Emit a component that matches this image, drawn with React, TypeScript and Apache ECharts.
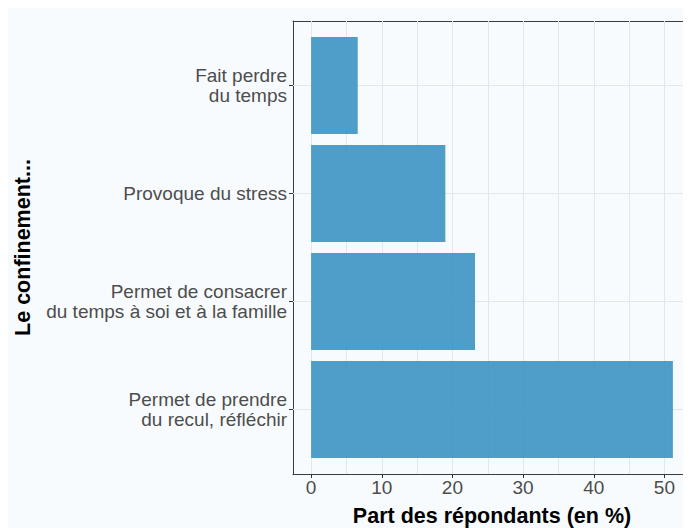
import React, { useEffect, useRef } from "react";
import * as echarts from "echarts";

const categories = [
  "Permet de prendre\ndu recul, réfléchir",
  "Permet de consacrer\ndu temps à soi et à la famille",
  "Provoque du stress",
  "Fait perdre\ndu temps",
];
const values = [51.2, 23.2, 19.0, 6.6];
const xTickValues = [0, 10, 20, 30, 40, 50];
const xGridValues = [0, 5, 10, 15, 20, 25, 30, 35, 40, 45, 50];
const xMin = -2.56;
const xMax = 53.76;

const FONT = "'Liberation Sans', Arial, sans-serif";
const BG = "#f7fbfd";
const GRID = "#e3e7ea";
const FRAME = "#3c3c3c";

export default function App() {
  const ref = useRef<HTMLDivElement>(null);
  useEffect(() => {
    document.body.style.overflow = "hidden";
    const chart = echarts.init(ref.current!, null, { renderer: "svg" });
    chart.setOption({
      animation: false,
      backgroundColor: BG,
      textStyle: { fontFamily: FONT },
      grid: [
        { left: 285, right: 0, top: 13, bottom: 54, containLabel: false, outerBoundsMode: "none" },
        { left: 285, right: 0, top: 23.5, bottom: 64.5, containLabel: false, outerBoundsMode: "none" },
      ],
      xAxis: [
        {
          type: "value",
          gridIndex: 0,
          position: "bottom",
          min: xMin,
          max: xMax,
          axisLine: { show: true, onZero: false, lineStyle: { color: FRAME, width: 1 } },
          axisTick: { show: true, length: 4, customValues: xTickValues, lineStyle: { color: "#333" } },
          axisLabel: {
            show: true,
            customValues: xTickValues,
            margin: 4,
            fontSize: 19,
            color: "#4d4d4d",
            fontFamily: FONT,
          },
          splitLine: { show: false },
          name: "Part des répondants (en %)",
          nameLocation: "middle",
          nameGap: 31,
          nameTextStyle: { fontSize: 21.5, fontWeight: "bold", color: "#000", fontFamily: FONT },
        },
        {
          type: "value",
          gridIndex: 1,
          min: xMin,
          max: xMax,
          show: false,
        },
        {
          type: "value",
          gridIndex: 0,
          position: "top",
          min: xMin,
          max: xMax,
          axisLine: { show: true, onZero: false, lineStyle: { color: FRAME, width: 1 } },
          axisTick: { show: false },
          axisLabel: { show: false },
          splitLine: { show: false },
        },
      ],
      yAxis: [
        {
          type: "value",
          gridIndex: 0,
          min: 0,
          max: 1,
          axisLine: { show: true, onZero: false, lineStyle: { color: FRAME, width: 1 } },
          axisTick: { show: false },
          axisLabel: { show: false },
          splitLine: { show: false },
          name: "Le confinement...",
          nameLocation: "middle",
          nameRotate: 90,
          nameGap: 259,
          nameTextStyle: { fontSize: 21.5, fontWeight: "bold", color: "#000", fontFamily: FONT },
        },
        {
          type: "category",
          gridIndex: 1,
          data: categories,
          axisLine: { show: false, onZero: false },
          axisTick: { show: true, alignWithLabel: true, length: 4, lineStyle: { color: "#333" } },
          axisLabel: {
            fontSize: 19,
            lineHeight: 20,
            color: "#4d4d4d",
            margin: 6,
            align: "right",
            fontFamily: FONT,
          },
          splitLine: { show: false },
        },
      ],
      series: [
        {
          type: "line",
          xAxisIndex: 0,
          yAxisIndex: 0,
          data: [],
          silent: true,
          markLine: {
            z: 1,
            silent: true,
            symbol: ["none", "none"],
            label: { show: false },
            lineStyle: { color: GRID, width: 1, type: "solid" },
            data: xGridValues.map((v) => ({ xAxis: v })),
          },
        },
        {
          type: "bar",
          xAxisIndex: 1,
          yAxisIndex: 1,
          data: values,
          barCategoryGap: "10%",
          z: 2,
          itemStyle: { color: "#3c94c3", opacity: 0.9 },
          markLine: {
            z: 1,
            silent: true,
            symbol: ["none", "none"],
            label: { show: false },
            lineStyle: { color: GRID, width: 1, type: "solid" },
            data: categories.map((c) => ({ yAxis: c })),
          },
        },
      ],
    });
    return () => chart.dispose();
  }, []);
  return <div ref={ref} style={{ width: 683, height: 520, background: BG }} />;
}
